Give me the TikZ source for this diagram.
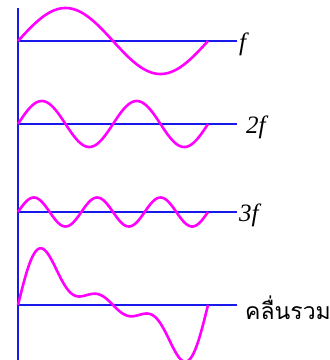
\documentclass[tikz,border=0pt]{standalone}
\usepackage{fontspec}
\usetikzlibrary{calc}
\newfontfamily\thaifont[Script=Thai]{Loma}
\newfontfamily\labfont{Liberation Serif}
\definecolor{axisblue}{RGB}{25,25,235}
\definecolor{wavemag}{RGB}{255,0,255}

\tikzset{
  axisline/.style={axisblue, line width=2.6pt},
  waveline/.style={wavemag, line width=2.6pt, line join=round},
  lbl/.style={anchor=west, inner sep=0pt, font=\labfont\itshape\fontsize{25}{27}\selectfont}
}

\begin{document}
\begin{tikzpicture}[x=1pt, y=-1pt]
    \useasboundingbox (0,0) rectangle (330,360);
    % axes
    \coordinate (top) at (18,8);
    \coordinate (bot) at (18,362);
    \draw[axisline] (top)--(bot);
    \foreach \yy/\nm in {41/a, 124/b, 212/c, 305/d}{
        \coordinate (s\nm) at (18,\yy);
        \coordinate (e\nm) at (237,\yy);
        \draw[axisline] (s\nm)--(e\nm);
    }
    % harmonics
    \draw[waveline] plot[domain=0:360, samples=120] ({18+\x/360*190},{41-33*sin(\x)});
    \draw[waveline] plot[domain=0:360, samples=120] ({18+\x/360*190},{124-23*sin(2*\x)});
    \draw[waveline] plot[domain=0:360, samples=150] ({18+\x/360*190},{212-14.5*sin(3*\x)});
    % sum
    \draw[waveline] plot[domain=0:360, samples=200] ({18+\x/360*190},{305-33*sin(\x)-23*sin(2*\x)-14.5*sin(3*\x)});
    % labels
    \node[lbl] (lf) at ($(ea)+(2,3)$) {f};
    \node[lbl] (l2f) at ($(eb)+(9,3)$) {2f};
    \node[lbl] (l3f) at ($(ec)+(2,3)$) {3f};
    \node[lbl, font=\thaifont\fontsize{23}{26}\selectfont] (lsum) at ($(ed)+(8,3)$) {คลื่นรวม};
\end{tikzpicture}
\end{document}
